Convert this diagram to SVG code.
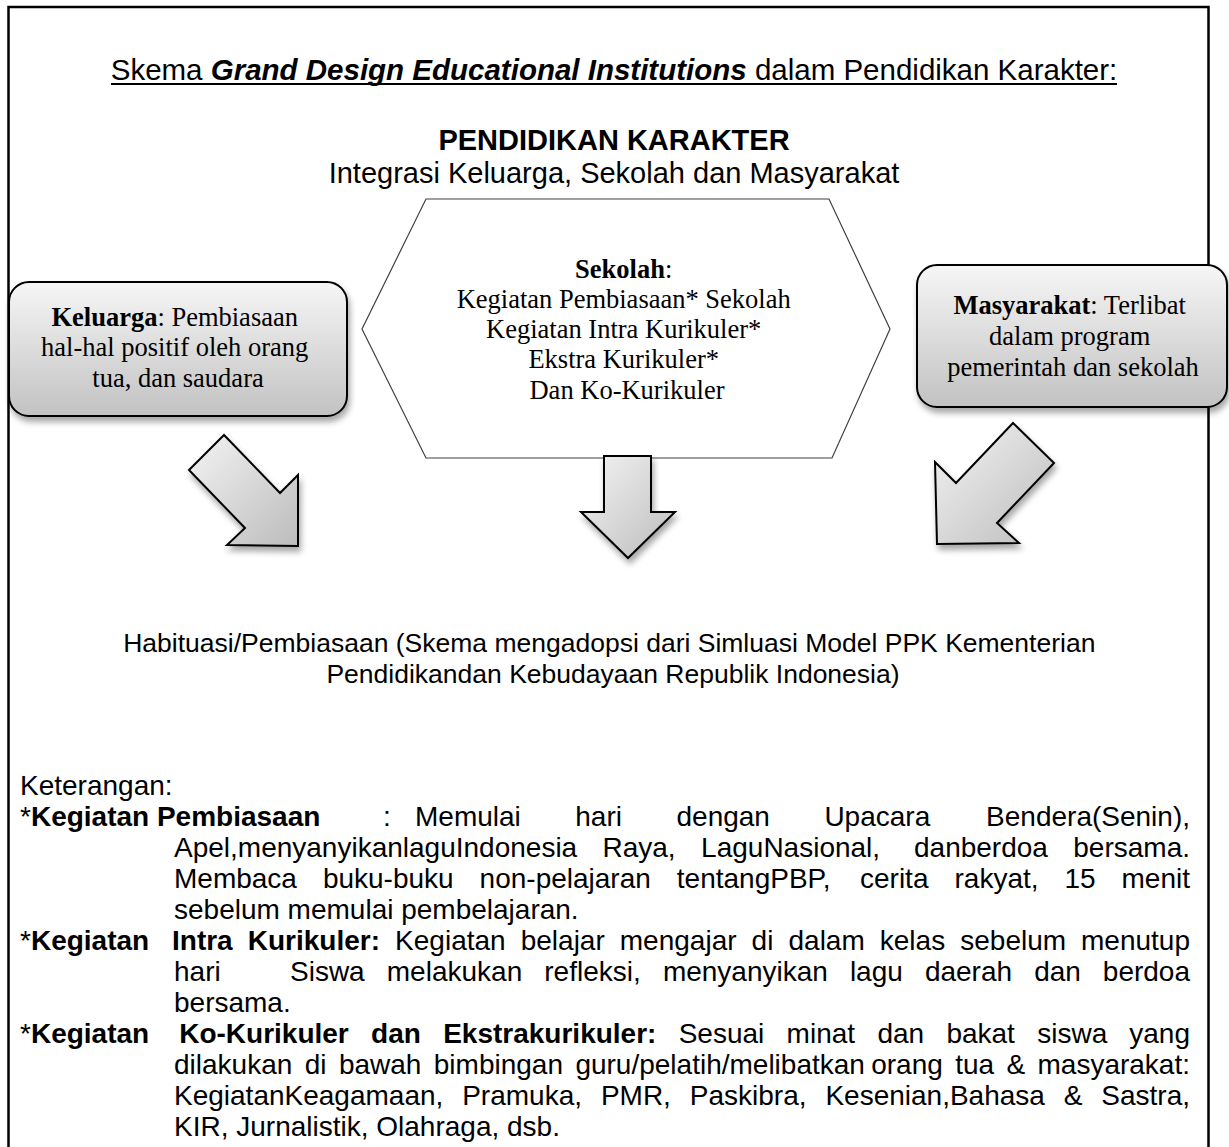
<svg xmlns="http://www.w3.org/2000/svg" width="1229" height="1147" viewBox="0 0 1229 1147">
<style>
.sans{font-family:"Liberation Sans",Arial,sans-serif;fill:#000}
.serif{font-family:"Liberation Serif","Times New Roman",serif;fill:#000}
.body{font-size:28px}
.box{stroke:#000;stroke-width:2;fill:url(#boxg)}
.arrow{stroke:#000;stroke-width:2;stroke-linejoin:miter;fill:url(#arrg)}
.b{font-weight:bold}
</style>
<defs>
<linearGradient id="boxg" x1="0" y1="0" x2="0" y2="1">
<stop offset="0" stop-color="#f6f6f6"/>
<stop offset="1" stop-color="#c2c2c2"/>
</linearGradient>
<linearGradient id="arrg" x1="0" y1="0" x2="1" y2="1">
<stop offset="0" stop-color="#f4f4f4"/>
<stop offset="1" stop-color="#bcbcbc"/>
</linearGradient>
<filter id="sh" x="-20%" y="-20%" width="150%" height="160%">
<feGaussianBlur in="SourceAlpha" stdDeviation="3"/>
<feOffset dx="2" dy="5" result="o"/>
<feComponentTransfer><feFuncA type="linear" slope="0.35"/></feComponentTransfer>
<feMerge><feMergeNode/><feMergeNode in="SourceGraphic"/></feMerge>
</filter>
</defs>
<rect width="1229" height="1147" fill="#fff"/>
<path id="frame" d="M8.5,1147 V7 H1208.5 V1147" fill="none" stroke="#000" stroke-width="2.5"/>

<g id="title">
<text class="sans" x="614" y="80" font-size="29.5" text-anchor="middle">Skema <tspan class="b" font-style="italic">Grand Design Educational Institutions</tspan> dalam Pendidikan Karakter:</text>
<line x1="111" y1="84" x2="1117" y2="84" stroke="#000" stroke-width="2"/>
<text class="sans b" x="614" y="150" font-size="29" text-anchor="middle">PENDIDIKAN KARAKTER</text>
<text class="sans" x="614" y="183" font-size="29" text-anchor="middle">Integrasi Keluarga, Sekolah dan Masyarakat</text>
</g>

<g id="sekolah">
<polygon points="426,199 829,199 890,329 832,458 426,458 362,329" fill="#fff" stroke="#404040" stroke-width="1.2"/>
<text class="serif" font-size="26.5" text-anchor="middle">
<tspan x="627" y="278"><tspan class="b">Sekolah</tspan>:</tspan>
<tspan x="627" y="308">Kegiatan Pembiasaan* Sekolah</tspan>
<tspan x="627" y="338">Kegiatan Intra Kurikuler*</tspan>
<tspan x="627" y="368">Ekstra Kurikuler*</tspan>
<tspan x="627" y="399">Dan Ko-Kurikuler</tspan>
</text>
</g>

<g id="keluarga">
<rect class="box" x="9" y="282" width="338" height="134" rx="20" filter="url(#sh)"/>
<text class="serif" font-size="26.5" text-anchor="middle">
<tspan x="178" y="326"><tspan class="b">Keluarga</tspan>: Pembiasaan</tspan>
<tspan x="178" y="356">hal-hal positif oleh orang</tspan>
<tspan x="178" y="387">tua, dan saudara</tspan>
</text>
</g>

<g id="masyarakat">
<rect class="box" x="917" y="265" width="310" height="142" rx="20" filter="url(#sh)"/>
<text class="serif" font-size="26.5" text-anchor="middle">
<tspan x="1073" y="314"><tspan class="b">Masyarakat</tspan>: Terlibat</tspan>
<tspan x="1073" y="345">dalam program</tspan>
<tspan x="1073" y="376">pemerintah dan sekolah</tspan>
</text>
</g>

<g id="connectors">
<polygon class="arrow" filter="url(#sh)" points="224,435 189,470 245,528 227,545 298,546 298,475 280,493"/>
<polygon class="arrow" filter="url(#sh)" points="604,456 651,456 651,512 675,512 628,558 581,512 604,512"/>
<polygon class="arrow" filter="url(#sh)" points="1013,423 1054,463 997,523 1019,543 937,544 935,462 956,483"/>
</g>

<g id="habituasi">
<text class="sans" font-size="26.5" text-anchor="middle">
<tspan x="613" y="652">Habituasi/Pembiasaan (Skema mengadopsi dari Simluasi Model PPK Kementerian</tspan>
<tspan x="613" y="683">Pendidikandan Kebudayaan Republik Indonesia)</tspan>
</text>
</g>

<g id="keterangan" class="sans body">
<text x="20" y="795">Keterangan:</text>
<text y="826"><tspan x="20">*</tspan><tspan class="b">Kegiatan Pembiasaan</tspan><tspan x="383">:</tspan><tspan x="415">Memulai</tspan><tspan x="575.3">hari</tspan><tspan x="676.5">dengan</tspan><tspan x="824.4">Upacara</tspan><tspan x="1190" text-anchor="end">Bendera(Senin),</tspan></text>
<text y="857"><tspan x="174">Apel,menyanyikanlaguIndonesia</tspan><tspan x="602.5">Raya,</tspan><tspan x="701.1">LaguNasional,</tspan><tspan x="914">danberdoa</tspan><tspan x="1190" text-anchor="end">bersama.</tspan></text>
<text y="888"><tspan x="174">Membaca</tspan><tspan x="322.9">buku-buku</tspan><tspan x="479.6">non-pelajaran</tspan><tspan x="676.8">tentangPBP,</tspan><tspan x="860">cerita</tspan><tspan x="954.5">rakyat,</tspan><tspan x="1064.5">15</tspan><tspan x="1190" text-anchor="end">menit</tspan></text>
<text x="174" y="919">sebelum memulai pembelajaran.</text>
<text y="950"><tspan x="20">*</tspan><tspan class="b">Kegiatan</tspan><tspan class="b" x="172">Intra</tspan><tspan class="b" x="247.8">Kurikuler:</tspan><tspan x="395.1">Kegiatan</tspan><tspan x="520.7">belajar</tspan><tspan x="619.8">mengajar</tspan><tspan x="751.6">di</tspan><tspan x="788.5">dalam</tspan><tspan x="879.8">kelas</tspan><tspan x="960.3">sebelum</tspan><tspan x="1190" text-anchor="end">menutup</tspan></text>
<text y="981"><tspan x="174">hari</tspan><tspan x="290">Siswa</tspan><tspan x="386.8">melakukan</tspan><tspan x="544.3">refleksi,</tspan><tspan x="662.9">menyanyikan</tspan><tspan x="849.9">lagu</tspan><tspan x="924.9">daerah</tspan><tspan x="1034.2">dan</tspan><tspan x="1190" text-anchor="end">berdoa</tspan></text>
<text x="174" y="1012">bersama.</text>
<text y="1043"><tspan x="20">*</tspan><tspan class="b">Kegiatan</tspan><tspan class="b" x="179.2">Ko-Kurikuler</tspan><tspan class="b" x="371.1">dan</tspan><tspan class="b" x="443.2">Ekstrakurikuler:</tspan><tspan x="678.7">Sesuai</tspan><tspan x="786.6">minat</tspan><tspan x="877.4">dan</tspan><tspan x="946.4">bakat</tspan><tspan x="1037.2">siswa</tspan><tspan x="1190" text-anchor="end">yang</tspan></text>
<text y="1074"><tspan x="174">dilakukan</tspan><tspan x="304.7">di</tspan><tspan x="338.9">bawah</tspan><tspan x="433.8">bimbingan</tspan><tspan x="575.4">guru/pelatih/melibatkan</tspan><tspan x="871.2">orang</tspan><tspan x="955.2">tua</tspan><tspan x="1006.5">&amp;</tspan><tspan x="1190" text-anchor="end">masyarakat:</tspan></text>
<text y="1105"><tspan x="174">KegiatanKeagamaan,</tspan><tspan x="462.2">Pramuka,</tspan><tspan x="600.9">PMR,</tspan><tspan x="689.8">Paskibra,</tspan><tspan x="825.4">Kesenian,Bahasa</tspan><tspan x="1063.8">&amp;</tspan><tspan x="1190" text-anchor="end">Sastra,</tspan></text>
<text x="174" y="1136">KIR, Jurnalistik, Olahraga, dsb.</text>
</g>
</svg>
